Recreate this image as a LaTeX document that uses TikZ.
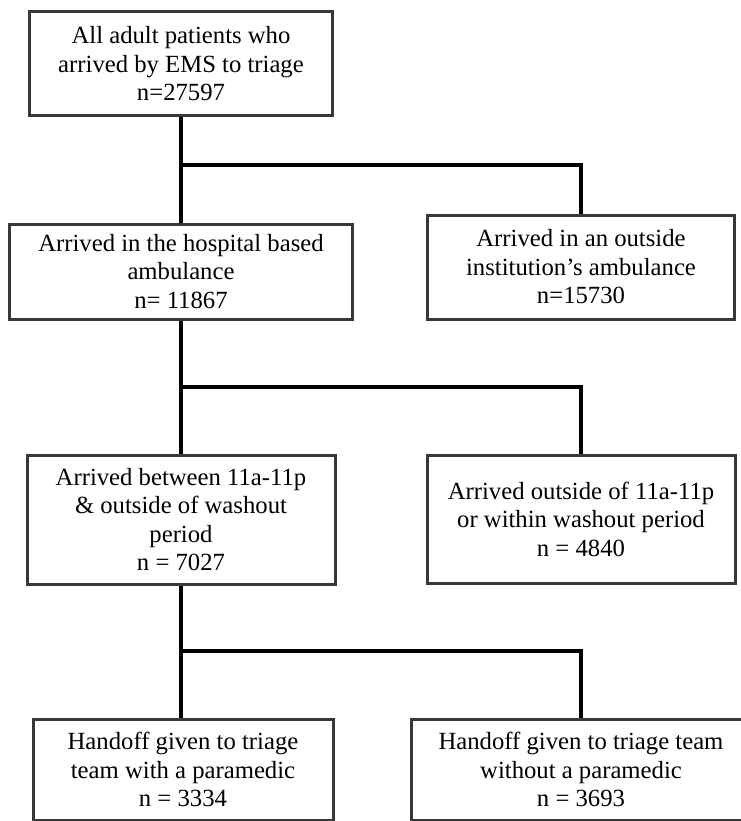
\documentclass[tikz,border=0pt]{standalone}
\usepackage{fontspec}
\setmainfont{Liberation Serif}
\usepackage{tikz}

\begin{document}
\begin{tikzpicture}[x=1pt, y=-1pt,
	box/.style = {draw=black!78, line width=3pt, fill=white, align=center, inner sep=2pt,
		font=\fontsize{24.7}{28.5}\selectfont},
	link/.style = {line width=3.2pt, black}]
				\useasboundingbox (0,0) rectangle (740,821);
				\node[box, minimum width=303pt, minimum height=104pt] (all) at (181,64)
					{All adult patients who\\arrived by EMS to triage\\n=27597};
				\node[box, minimum width=343pt, minimum height=95pt] (hosp) at (181,271.5)
					{Arrived in the hospital based\\ambulance\\n= 11867};
				\node[box, minimum width=307pt, minimum height=104pt] (outside) at (581,267)
					{Arrived in an outside\\institution's ambulance\\n=15730};
				\node[box, minimum width=308pt, minimum height=129pt] (inhours) at (181,519.5)
					{Arrived between 11a-11p\\\& outside of washout\\period\\n = 7027};
				\node[box, minimum width=308pt, minimum height=128pt] (offhours) at (581,519)
					{Arrived outside of 11a-11p\\or within washout period\\n = 4840};
				\node[box, minimum width=300pt, minimum height=101pt] (withpm) at (183,769.5)
					{Handoff given to triage\\team with a paramedic\\n = 3334};
				\node[box, minimum width=340pt, minimum height=101pt] (nopm) at (581,769.5)
					{Handoff given to triage team\\without a paramedic\\n = 3693};
				\coordinate (j1) at (181,165);
				\coordinate (j2) at (181,387);
				\coordinate (j3) at (181,651);
				\draw[link] (all.south) -- (hosp.north);
				\draw[link] (j1) -| (outside.north);
				\draw[link] (hosp.south) -- (inhours.north);
				\draw[link] (j2) -| (offhours.north);
				\draw[link] (inhours.south) -- (inhours.south |- withpm.north);
				\draw[link] (j3) -| (nopm.north);
			\end{tikzpicture}
\end{document}
